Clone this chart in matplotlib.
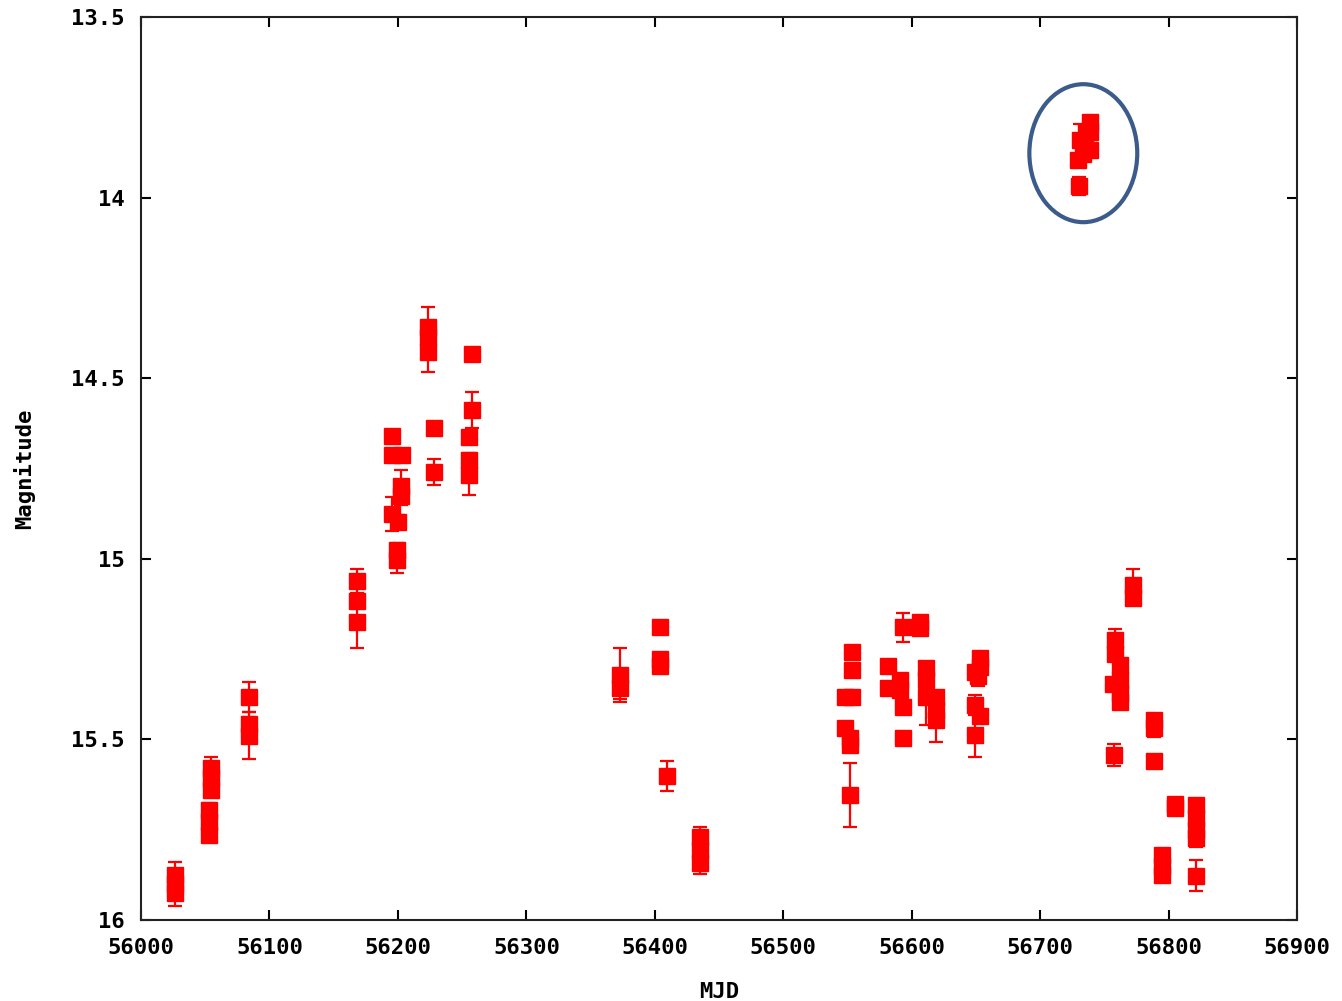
import numpy as np
import matplotlib
matplotlib.use("Agg")
import matplotlib.pyplot as plt
from matplotlib.patches import Ellipse

# light curve points: MJD, magnitude, error
mjd = [
    56026.5, 56026.5, 56026.5,
    56054.5, 56054.5, 56054.5, 56052.9, 56052.9, 56052.9,
    56084.1, 56084.1, 56084.1,
    56168.2, 56168.2, 56168.2,
    56195.4, 56195.4, 56203.2, 56202.4, 56202.4, 56195.4, 56200.1, 56199.3, 56199.3,
    56223.5, 56223.5, 56223.5,
    56228.1, 56228.1,
    56257.7, 56257.7, 56255.4, 56255.4, 56255.4,
    56372.9, 56372.9,
    56404.1, 56404.1, 56404.1,
    56409.5,
    56435.2, 56435.2, 56435.2,
    56553.6, 56553.6, 56548.1, 56553.6, 56548.1, 56552.0, 56552.0, 56552.0,
    56581.6, 56581.6, 56590.9, 56590.9, 56593.3, 56593.3, 56593.3, 56606.5, 56606.5,
    56611.2, 56611.2, 56611.2, 56619.0, 56619.0, 56619.0,
    56653.2, 56653.2, 56649.3, 56651.7, 56649.3, 56653.2, 56649.3,
    56730.3, 56738.9, 56738.9, 56730.8, 56738.9, 56729.5, 56735.0, 56735.8, 56733.5,
    56772.3, 56772.3, 56758.3, 56758.3, 56762.2, 56756.8, 56762.2, 56762.2, 56762.2,
    56788.7, 56788.7, 56757.6, 56788.7,
    56805.0, 56805.0, 56821.4, 56821.4, 56821.4, 56821.4,
    56794.9, 56794.9, 56794.9, 56821.4,
]
mag = [
    15.875, 15.900, 15.925,
    15.579, 15.607, 15.640, 15.695, 15.729, 15.765,
    15.383, 15.457, 15.490,
    15.061, 15.117, 15.175,
    14.660, 14.713, 14.713, 14.798, 14.826, 14.876, 14.898, 14.976, 15.003,
    14.358, 14.386, 14.427,
    14.638, 14.760,
    14.433, 14.588, 14.663, 14.726, 14.768,
    15.322, 15.358,
    15.189, 15.277, 15.297,
    15.601,
    15.770, 15.806, 15.842,
    15.258, 15.308, 15.383, 15.383, 15.468, 15.496, 15.515, 15.654,
    15.297, 15.358, 15.336, 15.363, 15.410, 15.496, 15.189, 15.175, 15.192,
    15.302, 15.336, 15.383, 15.383, 15.419, 15.446,
    15.275, 15.300, 15.313, 15.324, 15.405, 15.435, 15.488,
    13.968, 13.791, 13.818, 13.841, 13.868, 13.896, 13.863, 13.818, 13.880,
    15.073, 15.109, 15.225, 15.264, 15.294, 15.347, 15.336, 15.372, 15.396,
    15.446, 15.468, 15.543, 15.560,
    15.679, 15.690, 15.682, 15.718, 15.751, 15.773,
    15.820, 15.850, 15.875, 15.878,
]
err = [
    0.035, 0.02, 0.035,
    0.03, 0.02, 0.02, 0.02, 0.02, 0.02,
    0.042, 0.02, 0.065,
    0.033, 0.02, 0.072,
    0.01, 0.01, 0.01, 0.045, 0.025, 0.047, 0.02, 0.02, 0.036,
    0.055, 0.02, 0.055,
    0.01, 0.035,
    0.01, 0.05, 0.01, 0.02, 0.055,
    0.075, 0.03,
    0.01, 0.01, 0.01,
    0.042,
    0.028, 0.02, 0.03,
    0.01, 0.01, 0.01, 0.01, 0.01, 0.01, 0.01, 0.088,
    0.01, 0.01, 0.01, 0.01, 0.01, 0.01, 0.04, 0.01, 0.01,
    0.01, 0.01, 0.078, 0.01, 0.01, 0.06,
    0.01, 0.01, 0.01, 0.028, 0.028, 0.01, 0.06,
    0.025, 0.01, 0.01, 0.045, 0.01, 0.01, 0.01, 0.01, 0.01,
    0.044, 0.01, 0.03, 0.01, 0.01, 0.01, 0.01, 0.01, 0.01,
    0.01, 0.025, 0.03, 0.01,
    0.01, 0.01, 0.01, 0.01, 0.01, 0.025,
    0.01, 0.01, 0.01, 0.043,
]

xticks = list(range(56000, 56901, 100))
yticks = [13.5, 14, 14.5, 15, 15.5, 16]
ytick_labels = ["13.5", "14", "14.5", "15", "15.5", "16"]

# highlighted outburst
circle_center = (56733.6, 13.877)
circle_size = (84, 0.382)

font = {"family": "DejaVu Sans Mono", "weight": "bold"}

fig = plt.figure(figsize=(13.42, 10.01), dpi=100)
ax = fig.add_axes([0.1051, 0.0809, 0.8614, 0.9021])

ax.errorbar(mjd, mag, yerr=err, fmt="s", color="#ff0000", ecolor="#ff0000",
            markersize=11, elinewidth=1.6, capsize=4.8, capthick=1.6)

ax.add_patch(Ellipse(circle_center, circle_size[0], circle_size[1],
                     fill=False, edgecolor="#3b5b8b", linewidth=3))

ax.set_xlim(56000, 56900)
ax.set_ylim(16, 13.5)
ax.set_xticks(xticks)
ax.set_xticklabels([str(t) for t in xticks], fontsize=16, **font)
ax.set_yticks(yticks)
ax.set_yticklabels(ytick_labels, fontsize=16, **font)
ax.tick_params(direction="in", length=7, width=1.5, top=True, right=True)
ax.tick_params(axis="x", pad=13)
ax.tick_params(axis="y", pad=12)

for s in ax.spines.values():
    s.set_linewidth(1.5)
    s.set_color("#222222")

ax.set_xlabel("MJD", fontsize=16, labelpad=17, **font)
ax.set_ylabel("Magnitude", fontsize=16, labelpad=26, **font)

fig.savefig("out.png", dpi=100)
